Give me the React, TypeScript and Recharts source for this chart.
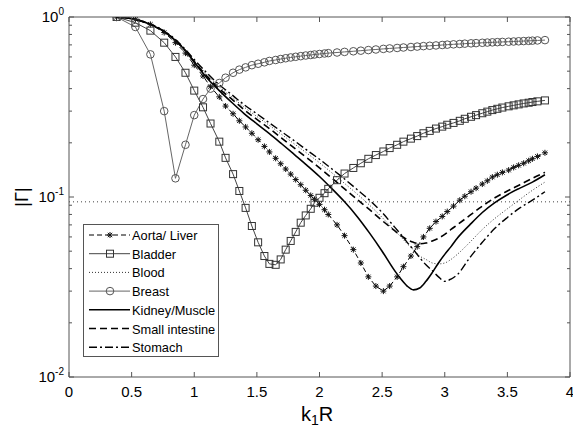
import React from "react";
import { LineChart, Line, XAxis, YAxis, ReferenceLine } from "recharts";

// k1R samples shared by the marker series (Aorta/Liver, Bladder, Breast)
const markerX = [
  0.38, 0.53, 0.65, 0.76, 0.85, 0.93, 1.0, 1.07, 1.13, 1.2,
  1.25, 1.31, 1.36, 1.41, 1.46, 1.51, 1.56, 1.6, 1.65, 1.69,
  1.73, 1.77, 1.81, 1.85, 1.89, 1.93, 1.96, 2.0, 2.04, 2.07,
  2.14, 2.2, 2.27, 2.33, 2.39, 2.45, 2.51, 2.56, 2.62, 2.67,
  2.73, 2.78, 2.83, 2.88, 2.93, 2.98, 3.02, 3.07, 3.12, 3.16,
  3.21, 3.25, 3.3, 3.34, 3.38, 3.42, 3.46, 3.51, 3.55, 3.59,
  3.63, 3.67, 3.7, 3.74, 3.8,
];

const aortaLiver = [
  1.0, 0.97, 0.91, 0.82, 0.72, 0.63, 0.54, 0.47, 0.41, 0.36,
  0.32, 0.29, 0.265, 0.245, 0.226, 0.208, 0.191, 0.178, 0.164, 0.153,
  0.143, 0.134, 0.125, 0.117, 0.109, 0.102, 0.097, 0.091, 0.085, 0.08,
  0.07, 0.061, 0.051, 0.043, 0.036, 0.032, 0.03, 0.032, 0.036, 0.041,
  0.047, 0.053, 0.06, 0.067, 0.073, 0.078, 0.083, 0.089, 0.096, 0.101,
  0.107, 0.112, 0.118, 0.123, 0.129, 0.133, 0.137, 0.141, 0.146, 0.15,
  0.154, 0.159, 0.163, 0.168, 0.176,
];

const bladder = [
  1.0, 0.93, 0.84, 0.72, 0.6, 0.49, 0.39, 0.315, 0.256, 0.203,
  0.165, 0.134, 0.108, 0.087, 0.069, 0.056, 0.047, 0.0425, 0.042, 0.045,
  0.051, 0.057, 0.064, 0.072, 0.079, 0.086, 0.093, 0.099, 0.105, 0.111,
  0.124, 0.135, 0.145, 0.154, 0.163, 0.171, 0.179, 0.187, 0.195, 0.203,
  0.211, 0.218, 0.226, 0.233, 0.24, 0.246, 0.252, 0.258, 0.265, 0.272,
  0.279, 0.285, 0.292, 0.298, 0.304, 0.309, 0.314, 0.319, 0.323, 0.327,
  0.331, 0.334, 0.337, 0.34, 0.344,
];

const breast = [
  1.0, 0.88, 0.62, 0.3, 0.127, 0.195, 0.285, 0.35, 0.4, 0.43,
  0.46, 0.49, 0.51, 0.525, 0.54, 0.55, 0.56, 0.57, 0.577, 0.584,
  0.59, 0.596, 0.601, 0.606, 0.611, 0.615, 0.619, 0.623, 0.627, 0.63,
  0.635, 0.64, 0.645, 0.65, 0.655, 0.66, 0.665, 0.669, 0.673, 0.677,
  0.681, 0.685, 0.689, 0.692, 0.695, 0.699, 0.702, 0.705, 0.708, 0.711,
  0.714, 0.716, 0.719, 0.721, 0.723, 0.725, 0.727, 0.729, 0.731, 0.733,
  0.735, 0.737, 0.739, 0.741, 0.744,
];

// k1R samples for the plain line series
const lineX = [
  0.38, 0.53, 0.65, 0.76, 0.85, 0.93, 1.0, 1.1, 1.2, 1.3,
  1.4, 1.5, 1.6, 1.7, 1.8, 1.9, 2.0, 2.1, 2.2, 2.3,
  2.4, 2.5, 2.6, 2.65, 2.7, 2.75, 2.8, 2.85, 2.9, 2.95,
  3.0, 3.05, 3.1, 3.2, 3.3, 3.4, 3.5, 3.6, 3.7, 3.8,
];

const blood = [
  1.0, 0.97, 0.91, 0.83, 0.745, 0.655, 0.57, 0.48, 0.41, 0.36,
  0.315, 0.28, 0.25, 0.222, 0.197, 0.175, 0.155, 0.136, 0.119, 0.104,
  0.09, 0.077, 0.065, 0.06, 0.055, 0.051, 0.047, 0.045, 0.043, 0.0425,
  0.043, 0.045, 0.048, 0.056, 0.066, 0.076, 0.086, 0.097, 0.109, 0.121,
];

const kidneyMuscle = [
  1.0, 0.97, 0.91, 0.83, 0.74, 0.65, 0.56, 0.46, 0.39, 0.335,
  0.29, 0.255, 0.225, 0.197, 0.172, 0.15, 0.13, 0.111, 0.094, 0.078,
  0.063, 0.05, 0.039, 0.035, 0.032, 0.0305, 0.0312, 0.034, 0.038, 0.043,
  0.048, 0.053, 0.059, 0.07, 0.082, 0.093, 0.103, 0.112, 0.121, 0.133,
];

const smallIntestine = [
  1.0, 0.97, 0.91, 0.83, 0.74, 0.65, 0.565, 0.47, 0.4, 0.35,
  0.305, 0.27, 0.24, 0.212, 0.187, 0.165, 0.145, 0.127, 0.111, 0.097,
  0.085, 0.074, 0.065, 0.061, 0.058, 0.056, 0.055, 0.0555, 0.057, 0.059,
  0.062, 0.066, 0.07, 0.079, 0.089, 0.099, 0.108, 0.117, 0.127, 0.137,
];

const stomach = [
  1.0, 0.97, 0.915, 0.835, 0.75, 0.66, 0.58, 0.49, 0.42, 0.37,
  0.325, 0.29, 0.258, 0.23, 0.205, 0.182, 0.162, 0.143, 0.126, 0.11,
  0.096, 0.082, 0.068, 0.062, 0.056, 0.051, 0.046, 0.042, 0.039, 0.036,
  0.034, 0.035, 0.037, 0.046, 0.056, 0.067, 0.077, 0.087, 0.096, 0.107,
];

const thresholdLevel = 0.094;

const xTicks = [0, 0.5, 1, 1.5, 2, 2.5, 3, 3.5, 4];
const yTicks = [
  0.01, 0.02, 0.03, 0.04, 0.05, 0.06, 0.07, 0.08, 0.09,
  0.1, 0.2, 0.3, 0.4, 0.5, 0.6, 0.7, 0.8, 0.9, 1,
];
const yMajor = [0.01, 0.1, 1];

const zip = (xs: number[], ys: number[]) => xs.map((x, i) => ({ x, y: ys[i] }));

const AXIS = "#555";
const FONT = "Arial, 'Liberation Sans', Helvetica, sans-serif";

const isMajor = (v: number) => yMajor.some((m) => Math.abs(m - v) < 1e-9);

const LeftTick = (p: any) => {
  const { x, y, payload } = p;
  const v = payload.value;
  const major = isMajor(v);
  return (
    <g>
      <line x1={x} y1={y} x2={x + (major ? 5 : 3)} y2={y} stroke={AXIS} />
      {major && (
        <text x={x - 5} y={y + 5} textAnchor="end" fontFamily={FONT} fontSize={15} fill="#000">
          10
          <tspan dy={-7} fontSize={10}>
            {Math.round(Math.log10(v))}
          </tspan>
        </text>
      )}
    </g>
  );
};

const RightTick = (p: any) => {
  const { x, y, payload } = p;
  const major = isMajor(payload.value);
  return <line x1={x} y1={y} x2={x - (major ? 5 : 3)} y2={y} stroke={AXIS} />;
};

const BottomTick = (p: any) => {
  const { x, y, payload } = p;
  return (
    <g>
      <line x1={x} y1={y} x2={x} y2={y - 5} stroke={AXIS} />
      <text x={x} y={y + 20} textAnchor="middle" fontFamily={FONT} fontSize={15} fill="#000">
        {payload.value}
      </text>
    </g>
  );
};

const TopTick = (p: any) => {
  const { x, y } = p;
  return <line x1={x} y1={y} x2={x} y2={y + 5} stroke={AXIS} />;
};

// marker glyphs
const star = (cx: number, cy: number, color: string, key?: any) => (
  <g key={key} stroke={color} strokeWidth={1}>
    <line x1={cx - 3} y1={cy} x2={cx + 3} y2={cy} />
    <line x1={cx} y1={cy - 3} x2={cx} y2={cy + 3} />
    <line x1={cx - 2.2} y1={cy - 2.2} x2={cx + 2.2} y2={cy + 2.2} />
    <line x1={cx - 2.2} y1={cy + 2.2} x2={cx + 2.2} y2={cy - 2.2} />
  </g>
);
const square = (cx: number, cy: number, color: string, key?: any) => (
  <rect key={key} x={cx - 3.5} y={cy - 3.5} width={7} height={7} fill="none" stroke={color} strokeWidth={1} />
);
const circle = (cx: number, cy: number, color: string, key?: any) => (
  <circle key={key} cx={cx} cy={cy} r={3.8} fill="none" stroke={color} strokeWidth={1} />
);

type Series = {
  name: string;
  data: { x: number; y: number }[];
  stroke: string;
  width: number;
  dash?: string;
  marker?: typeof star;
  markerColor?: string;
  curve: "linear" | "monotone";
};

const series: Series[] = [
  { name: "Aorta/ Liver", data: zip(markerX, aortaLiver), stroke: "#000", width: 1, dash: "5 3", marker: star, markerColor: "#111", curve: "linear" },
  { name: "Bladder", data: zip(markerX, bladder), stroke: "#444", width: 1, marker: square, markerColor: "#333", curve: "linear" },
  { name: "Blood", data: zip(lineX, blood), stroke: "#333", width: 1, dash: "1 2", curve: "monotone" },
  { name: "Breast", data: zip(markerX, breast), stroke: "#666", width: 1, marker: circle, markerColor: "#555", curve: "linear" },
  { name: "Kidney/Muscle", data: zip(lineX, kidneyMuscle), stroke: "#000", width: 1.6, curve: "monotone" },
  { name: "Small intestine", data: zip(lineX, smallIntestine), stroke: "#000", width: 1.6, dash: "7 4", curve: "monotone" },
  { name: "Stomach", data: zip(lineX, stomach), stroke: "#000", width: 1.4, dash: "8 3 2 3", curve: "monotone" },
];

const LegendBox = () => {
  const w = 136;
  const h = 133;
  return (
    <svg
      width={w}
      height={h}
      style={{ position: "absolute", left: 83, top: 224, background: "#fff", pointerEvents: "none" }}
    >
      <rect x={0.5} y={0.5} width={w - 1} height={h - 1} fill="#fff" stroke={AXIS} />
      {series.map((s, i) => {
        const cy = 11 + i * 18.7;
        return (
          <g key={s.name}>
            <line x1={6} y1={cy} x2={47} y2={cy} stroke={s.stroke} strokeWidth={s.width} strokeDasharray={s.dash} />
            {s.marker && s.marker(27, cy, s.markerColor || s.stroke)}
            <text x={49} y={cy + 5} fontFamily={FONT} fontSize={12.8} fill="#000">
              {s.name}
            </text>
          </g>
        );
      })}
    </svg>
  );
};

export default function App() {
  return (
    <div style={{ position: "absolute", left: 0, top: 0, width: 573, height: 430, background: "#fff" }}>
      <LineChart width={573} height={430} margin={{ top: 16, right: 2, bottom: 52, left: 68 }}>
        <XAxis
          xAxisId="b"
          type="number"
          dataKey="x"
          domain={[0, 4]}
          ticks={xTicks}
          height={1}
          tickSize={0}
          tickMargin={0}
          tick={BottomTick}
          axisLine={{ stroke: AXIS }}
          tickLine={false}
          allowDataOverflow
          interval={0}
        />
        <XAxis
          xAxisId="t"
          orientation="top"
          type="number"
          dataKey="x"
          domain={[0, 4]}
          ticks={xTicks}
          height={1}
          tickSize={0}
          tickMargin={0}
          tick={TopTick}
          axisLine={{ stroke: AXIS }}
          tickLine={false}
          allowDataOverflow
          interval={0}
        />
        <YAxis
          yAxisId="l"
          type="number"
          scale="log"
          domain={[0.01, 1]}
          ticks={yTicks}
          width={1}
          tickSize={0}
          tickMargin={0}
          tick={LeftTick}
          axisLine={{ stroke: AXIS }}
          tickLine={false}
          allowDataOverflow
          interval={0}
        />
        <YAxis
          yAxisId="r"
          orientation="right"
          type="number"
          scale="log"
          domain={[0.01, 1]}
          ticks={yTicks}
          width={1}
          tickSize={0}
          tickMargin={0}
          tick={RightTick}
          axisLine={{ stroke: AXIS }}
          tickLine={false}
          allowDataOverflow
          interval={0}
        />
        <ReferenceLine
          xAxisId="b"
          yAxisId="l"
          y={thresholdLevel}
          stroke="#444"
          strokeDasharray="1 3"
        />
        {series.map((s) => (
          <Line
            key={s.name}
            name={s.name}
            data={s.data}
            dataKey="y"
            xAxisId="b"
            yAxisId="l"
            type={s.curve}
            stroke={s.stroke}
            strokeWidth={s.width}
            strokeDasharray={s.dash}
            dot={
              s.marker
                ? (p: any) => s.marker!(p.cx, p.cy, s.markerColor || s.stroke, `${s.name}-${p.index}`)
                : false
            }
            activeDot={false}
            isAnimationActive={false}
          />
        ))}
      </LineChart>
      <svg
        width={573}
        height={430}
        style={{ position: "absolute", left: 0, top: 0, pointerEvents: "none" }}
      >
        <text
          x={22}
          y={197}
          transform="rotate(-90 22 197)"
          textAnchor="middle"
          dy={6}
          fontFamily={FONT}
          fontSize={18}
          fill="#000"
        >
          |Γ|
        </text>
        <text x={317} y={421} textAnchor="middle" fontFamily={FONT} fontSize={20} fill="#000">
          k
          <tspan fontSize={14} dy={4}>
            1
          </tspan>
          <tspan dy={-4}>R</tspan>
        </text>
      </svg>
      <LegendBox />
    </div>
  );
}
